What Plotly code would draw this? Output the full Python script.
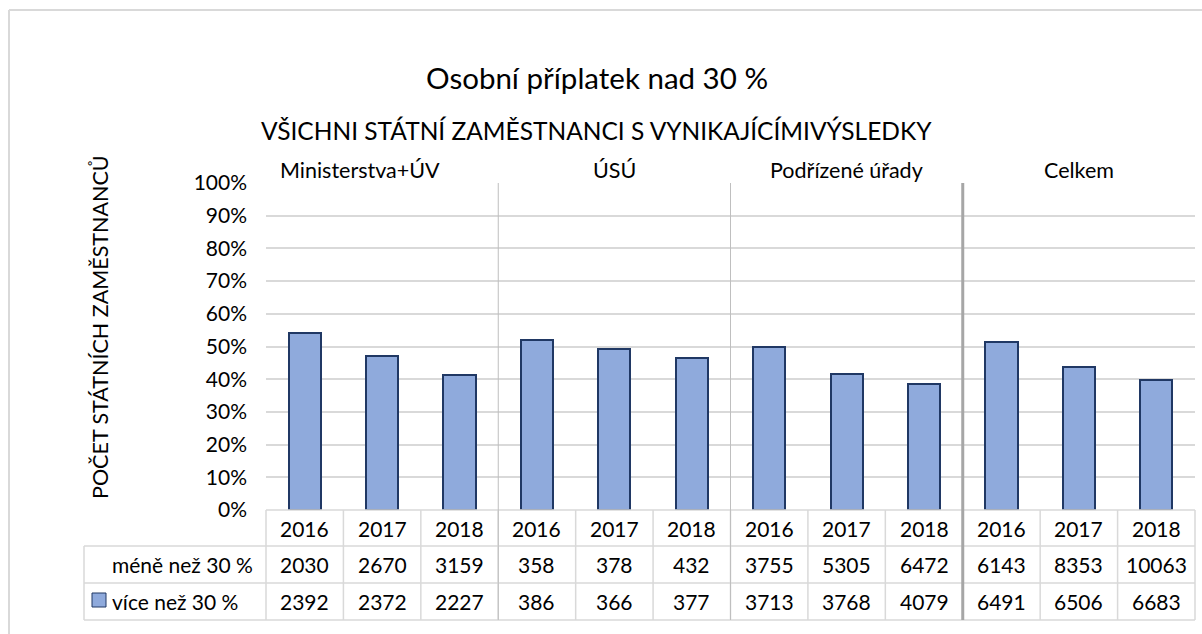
import plotly.graph_objects as go

# ---- data ----
groups = ["Ministerstva+ÚV", "ÚSÚ", "Podřízené úřady", "Celkem"]
years = ["2016", "2017", "2018"]
series_names = ["méně než 30 %", "více než 30 %"]
mene = [2030, 2670, 3159, 358, 378, 432, 3755, 5305, 6472, 6143, 8353, 10063]
vice = [2392, 2372, 2227, 386, 366, 377, 3713, 3768, 4079, 6491, 6506, 6683]
y_ticks = [0, 10, 20, 30, 40, 50, 60, 70, 80, 90, 100]
y_tick_text = [f"{v}%" for v in y_ticks]

title = "Osobní příplatek nad 30 %"
subtitle = "VŠICHNI STÁTNÍ ZAMĚSTNANCI S VYNIKAJÍCÍMIVÝSLEDKY"
y_title = "POČET STÁTNÍCH ZAMĚSTNANCŮ"

# ---- style ----
FONT = "Lato"
BAR_FILL = "#8faadc"
BAR_LINE = "#203864"
GRID = "#d9d9d9"
TXT = "#000000"

W, H = 1202, 634
L, R, T, B = 266, 7, 183, 124
PW = W - L - R
PH = H - T - B


def px_x(px):
    return (px - L) / PW


def px_y(py):
    return (H - B - py) / PH


n = len(mene)
cats = list(range(n))
ncol = n

fig = go.Figure()
fig.add_trace(go.Bar(x=cats, y=vice, name=series_names[1],
                     marker=dict(color=BAR_FILL, line=dict(color=BAR_LINE, width=2))))
fig.add_trace(go.Bar(x=cats, y=mene, name=series_names[0],
                     marker=dict(color="rgba(0,0,0,0)", line=dict(width=0))))

fig.update_layout(
    width=W, height=H,
    margin=dict(l=L, r=R, t=T, b=B, pad=0),
    barmode="stack", barnorm="percent", bargap=0.585,
    showlegend=False,
    paper_bgcolor="white", plot_bgcolor="white",
    font=dict(family=FONT, color=TXT, size=21),
)
fig.update_xaxes(range=[-0.5, n - 0.5], showticklabels=False, showgrid=False,
                 zeroline=False, showline=False, ticks="")
fig.update_yaxes(range=[0, 100], tickmode="array", tickvals=y_ticks, ticktext=y_tick_text,
                 showgrid=True, gridcolor=GRID, gridwidth=1.5, zeroline=False,
                 showline=False, ticks="", ticklabelstandoff=18,
                 tickfont=dict(family=FONT, size=21, color=TXT))

shapes = []
ann = []

# outer frame
shapes.append(dict(type="line", xref="paper", yref="paper", x0=px_x(9), x1=px_x(1210),
                   y0=px_y(10), y1=px_y(10), line=dict(color=GRID, width=2)))
shapes.append(dict(type="line", xref="paper", yref="paper", x0=px_x(9), x1=px_x(9),
                   y0=px_y(10), y1=px_y(640), line=dict(color=GRID, width=2)))

# table geometry
row_lines = [0.0, px_y(546), px_y(583), px_y(620)]
row_centers = [(row_lines[i] + row_lines[i + 1]) / 2 for i in range(3)]
legend_left = px_x(84)

# horizontal table lines
shapes.append(dict(type="line", xref="paper", yref="paper", x0=0, x1=1, y0=0, y1=0,
                   line=dict(color=GRID, width=1.5)))
for yy in row_lines[1:]:
    shapes.append(dict(type="line", xref="paper", yref="paper", x0=legend_left, x1=1,
                       y0=yy, y1=yy, line=dict(color=GRID, width=1.5)))
# vertical table lines
for i in range(ncol + 1):
    xx = i / ncol
    shapes.append(dict(type="line", xref="paper", yref="paper", x0=xx, x1=xx,
                       y0=0, y1=row_lines[-1], line=dict(color=GRID, width=1.5)))
shapes.append(dict(type="line", xref="paper", yref="paper", x0=legend_left, x1=legend_left,
                   y0=row_lines[1], y1=row_lines[-1], line=dict(color=GRID, width=1.5)))

# group separators
ng = len(groups)
per = n // ng
for g in range(1, ng):
    xx = g * per / ncol
    last = g == ng - 1
    shapes.append(dict(type="line", xref="paper", yref="paper", x0=xx, x1=xx,
                       y0=1, y1=row_lines[-1],
                       line=dict(color="#a6a6a6" if last else "#bfbfbf", width=3 if last else 1)))

# group labels
for g, name in enumerate(groups):
    cx = g * per + (per - 1) / 2
    if g == 0:
        cx -= 0.28
    ann.append(dict(x=cx, y=px_y(170), xref="x", yref="paper", text=name, showarrow=False,
                    font=dict(size=21.5), xanchor="center", yanchor="middle"))

# table text
for i in range(n):
    ann.append(dict(x=i, y=row_centers[0], xref="x", yref="paper", text=years[i % per],
                    showarrow=False, xanchor="center", yanchor="middle"))
    ann.append(dict(x=i, y=row_centers[1], xref="x", yref="paper", text=str(mene[i]),
                    showarrow=False, xanchor="center", yanchor="middle"))
    ann.append(dict(x=i, y=row_centers[2], xref="x", yref="paper", text=str(vice[i]),
                    showarrow=False, xanchor="center", yanchor="middle"))

# row headers
ann.append(dict(x=px_x(110), y=row_centers[1], xref="paper", yref="paper", text=series_names[0],
                showarrow=False, xanchor="left", yanchor="middle"))
ann.append(dict(x=px_x(110), y=row_centers[2], xref="paper", yref="paper", text=series_names[1],
                showarrow=False, xanchor="left", yanchor="middle"))
# legend key
shapes.append(dict(type="rect", xref="paper", yref="paper", x0=px_x(92), x1=px_x(106),
                   y0=px_y(607), y1=px_y(593), fillcolor=BAR_FILL,
                   line=dict(color=BAR_LINE, width=1)))

# titles
ann.append(dict(x=px_x(597), y=px_y(77), xref="paper", yref="paper", text=title, showarrow=False,
                font=dict(size=29.5), xanchor="center", yanchor="middle"))
ann.append(dict(x=px_x(596), y=px_y(131), xref="paper", yref="paper", text=subtitle,
                showarrow=False, font=dict(size=24.5), xanchor="center", yanchor="middle"))
ann.append(dict(x=px_x(100), y=px_y(327), xref="paper", yref="paper", text=y_title,
                showarrow=False, textangle=-90, font=dict(size=21.5),
                xanchor="center", yanchor="middle"))

fig.update_layout(shapes=shapes, annotations=ann)
fig.write_html("out.html", config={"displayModeBar": False},
               post_script="document.body.style.margin='0';")
